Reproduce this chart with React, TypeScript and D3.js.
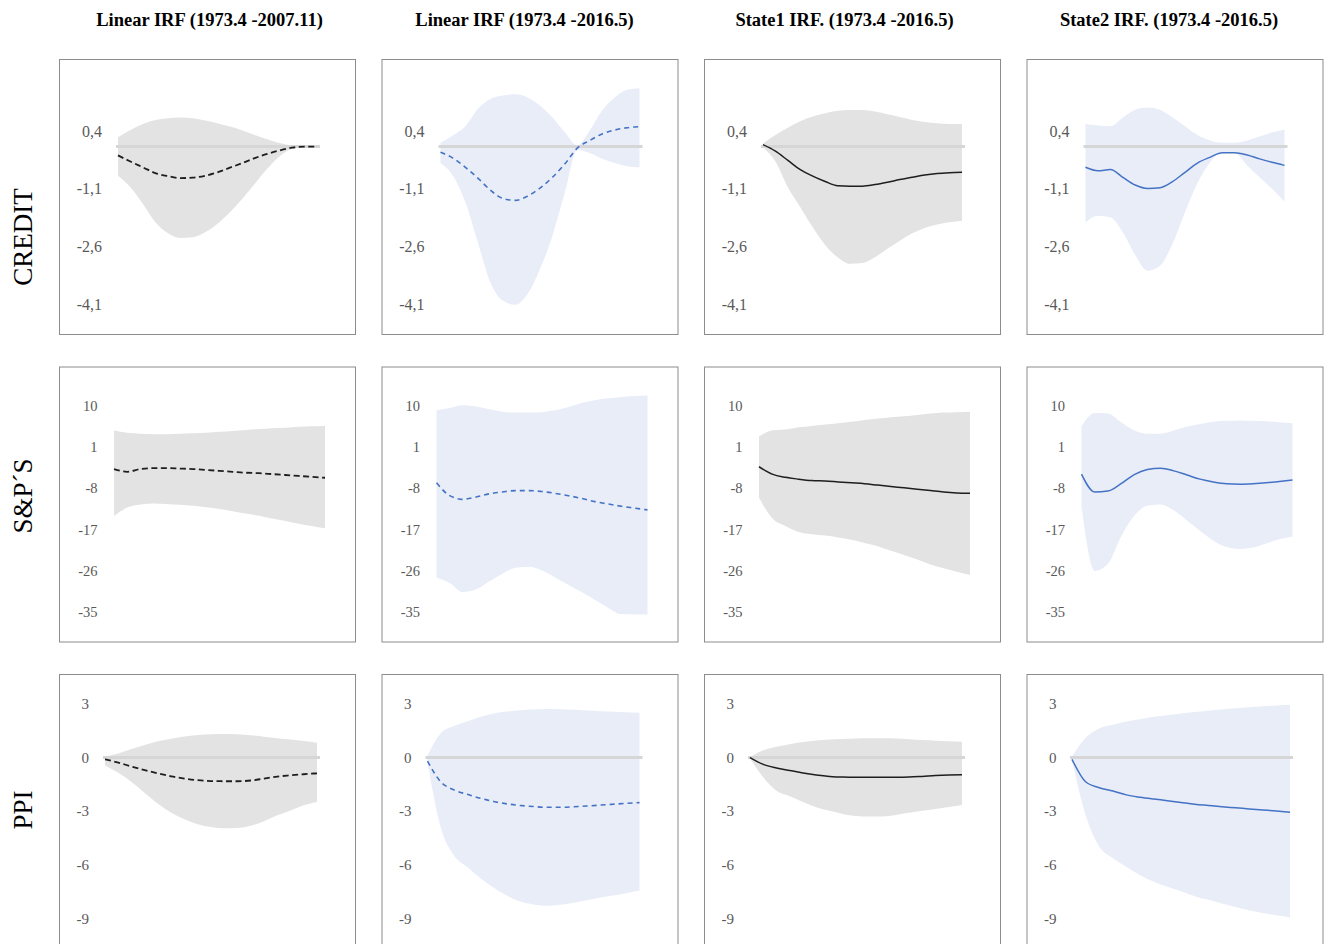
import React from 'react'
import * as d3 from 'd3'

// horizon (months after the shock)
const steps = [0, 1, 2, 3, 4, 5, 6, 7, 8, 9, 10, 11, 12, 13, 14, 15, 16]

const columnTitles = [
  'Linear IRF (1973.4 -2007.11)',
  'Linear IRF (1973.4 -2016.5)',
  'State1 IRF. (1973.4 -2016.5)',
  'State2 IRF. (1973.4 -2016.5)',
]
const variableNames = ['CREDIT', 'S&P´S', 'PPI']

const creditTicks = [0.4, -1.1, -2.6, -4.1]
const spTicks = [10, 1, -8, -17, -26, -35]
const ppiTicks = [3, 0, -3, -6, -9]

// CREDIT
const creditLinA = [-0.23, -0.39, -0.54, -0.69, -0.77, -0.82, -0.81, -0.76, -0.67, -0.55, -0.43, -0.3, -0.19, -0.1, -0.03, 0, 0]
const creditLinAHi = [0.24, 0.43, 0.59, 0.69, 0.74, 0.76, 0.74, 0.68, 0.61, 0.52, 0.42, 0.3, 0.19, 0.09, 0.02, 0, 0]
const creditLinALo = [-0.76, -1.06, -1.49, -1.97, -2.25, -2.38, -2.36, -2.23, -2.01, -1.71, -1.36, -0.97, -0.58, -0.25, -0.06, 0, 0]

const creditLinB = [-0.15, -0.3, -0.54, -0.82, -1.13, -1.35, -1.4, -1.29, -1.08, -0.8, -0.45, -0.04, 0.16, 0.33, 0.43, 0.49, 0.52]
const creditLinBHi = [0.1, 0.29, 0.53, 0.98, 1.24, 1.33, 1.36, 1.28, 1.07, 0.76, 0.37, 0.03, 0.42, 0.94, 1.28, 1.48, 1.52]
const creditLinBLo = [-0.43, -0.76, -1.45, -2.49, -3.53, -4.01, -4.12, -3.84, -3.19, -2.32, -1.19, -0.08, -0.17, -0.32, -0.43, -0.51, -0.54]

const creditS1 = [0.05, -0.12, -0.36, -0.6, -0.77, -0.91, -1.02, -1.03, -1.03, -0.99, -0.93, -0.86, -0.8, -0.74, -0.7, -0.68, -0.67]
const creditS1Hi = [0.08, 0.3, 0.49, 0.66, 0.78, 0.87, 0.93, 0.95, 0.95, 0.91, 0.84, 0.77, 0.69, 0.64, 0.61, 0.59, 0.59]
const creditS1Lo = [-0.02, -0.39, -1.06, -1.58, -2.1, -2.56, -2.88, -3.05, -3.03, -2.88, -2.66, -2.45, -2.26, -2.12, -2.03, -1.97, -1.93]

const creditS2 = [-0.54, -0.63, -0.6, -0.8, -1.0, -1.09, -1.07, -0.91, -0.67, -0.43, -0.28, -0.16, -0.16, -0.22, -0.32, -0.41, -0.49]
const creditS2Hi = [0.59, 0.55, 0.53, 0.76, 0.96, 1.02, 0.96, 0.76, 0.53, 0.3, 0.16, 0.1, 0.1, 0.16, 0.26, 0.37, 0.44]
const creditS2Lo = [-1.97, -1.8, -1.84, -2.23, -2.82, -3.23, -3.1, -2.53, -1.71, -0.95, -0.42, -0.15, -0.17, -0.49, -0.8, -1.1, -1.43]

// S&P
const spLinA = [-3.8, -4.4, -3.8, -3.6, -3.6, -3.7, -3.8, -4.0, -4.2, -4.4, -4.6, -4.7, -4.9, -5.1, -5.3, -5.5, -5.7]
const spLinAHi = [4.6, 4.1, 3.9, 3.8, 3.8, 3.9, 4.0, 4.1, 4.3, 4.5, 4.7, 4.9, 5.1, 5.2, 5.4, 5.5, 5.6]
const spLinALo = [-14.0, -12.2, -11.5, -11.3, -11.4, -11.6, -11.8, -12.1, -12.5, -13.0, -13.5, -14.0, -14.6, -15.1, -15.7, -16.2, -16.7]

const spLinB = [-6.8, -9.6, -10.4, -9.9, -9.2, -8.8, -8.5, -8.5, -8.7, -9.1, -9.6, -10.2, -10.9, -11.4, -11.9, -12.3, -12.7]
const spLinBHi = [9.0, 9.5, 10.1, 9.8, 9.2, 8.7, 8.5, 8.5, 8.6, 9.0, 9.7, 10.6, 11.2, 11.6, 11.9, 12.1, 12.2]
const spLinBLo = [-27.5, -28.6, -30.6, -30.0, -28.3, -26.6, -25.3, -25.1, -25.9, -27.4, -29.0, -30.6, -32.3, -34.0, -35.4, -35.5, -35.5]

const spS1 = [-3.3, -4.9, -5.6, -6.0, -6.3, -6.4, -6.6, -6.8, -7.0, -7.3, -7.6, -7.9, -8.2, -8.5, -8.8, -9.0, -9.1]
const spS1Hi = [3.3, 4.6, 4.8, 5.3, 5.6, 5.9, 6.2, 6.5, 6.9, 7.2, 7.5, 7.7, 8.0, 8.3, 8.5, 8.6, 8.7]
const spS1Lo = [-10, -14.5, -16.2, -17.5, -18.0, -18.3, -18.7, -19.2, -19.9, -20.6, -21.6, -22.5, -23.5, -24.6, -25.4, -26.2, -26.9]

const spS2 = [-4.9, -8.8, -8.6, -7.0, -5.0, -3.9, -3.6, -4.2, -5.1, -6.0, -6.6, -7.0, -7.1, -7.0, -6.8, -6.5, -6.2]
const spS2Hi = [5.5, 8.4, 8.3, 6.4, 4.6, 3.9, 3.9, 4.6, 5.4, 6.0, 6.5, 6.7, 6.8, 6.7, 6.6, 6.4, 6.2]
const spS2Lo = [-12, -26.0, -24.5, -18.5, -14.0, -11.8, -11.5, -12.8, -15.0, -17.3, -19.4, -20.8, -21.2, -20.9, -20.0, -19.1, -18.5]

// PPI
const ppiLinA = [-0.1, -0.28, -0.5, -0.7, -0.88, -1.05, -1.17, -1.26, -1.31, -1.32, -1.32, -1.28, -1.17, -1.06, -0.99, -0.93, -0.88]
const ppiLinAHi = [0.05, 0.22, 0.47, 0.7, 0.9, 1.05, 1.17, 1.25, 1.29, 1.31, 1.29, 1.24, 1.16, 1.08, 1.0, 0.92, 0.82]
const ppiLinALo = [-0.45, -0.85, -1.36, -1.97, -2.58, -3.07, -3.43, -3.71, -3.87, -3.94, -3.92, -3.8, -3.55, -3.22, -2.95, -2.66, -2.46]

const ppiLinB = [-0.2, -1.35, -1.8, -2.05, -2.27, -2.45, -2.58, -2.67, -2.73, -2.77, -2.77, -2.74, -2.7, -2.65, -2.6, -2.55, -2.51]
const ppiLinBHi = [0.1, 1.35, 1.75, 2.0, 2.27, 2.45, 2.56, 2.63, 2.67, 2.7, 2.69, 2.66, 2.62, 2.58, 2.55, 2.52, 2.49]
const ppiLinBLo = [-0.25, -3.9, -5.45, -6.1, -6.72, -7.25, -7.7, -8.02, -8.18, -8.25, -8.2, -8.08, -7.95, -7.8, -7.68, -7.55, -7.41]

const ppiS1 = [0, -0.38, -0.58, -0.72, -0.86, -0.97, -1.05, -1.09, -1.1, -1.1, -1.1, -1.1, -1.09, -1.05, -1.0, -0.97, -0.96]
const ppiS1Hi = [0.02, 0.4, 0.6, 0.74, 0.86, 0.95, 1.0, 1.03, 1.06, 1.07, 1.07, 1.06, 1.02, 0.97, 0.94, 0.91, 0.88]
const ppiS1Lo = [-0.05, -1.1, -1.85, -2.15, -2.47, -2.77, -2.97, -3.14, -3.26, -3.29, -3.28, -3.2, -3.08, -2.96, -2.86, -2.75, -2.64]

const ppiS2 = [-0.1, -1.35, -1.68, -1.86, -2.08, -2.21, -2.31, -2.4, -2.5, -2.6, -2.67, -2.74, -2.8, -2.86, -2.92, -2.98, -3.05]
const ppiS2Hi = [0.05, 1.1, 1.62, 1.82, 2.0, 2.13, 2.27, 2.35, 2.45, 2.53, 2.61, 2.68, 2.74, 2.8, 2.85, 2.9, 2.94]
const ppiS2Lo = [-0.15, -3.2, -4.95, -5.6, -6.1, -6.55, -6.92, -7.2, -7.45, -7.72, -7.92, -8.12, -8.32, -8.5, -8.65, -8.78, -8.9]

const rows = [
  {
    ticks: creditTicks,
    domain: [-4.88, 2.28],
    panels: [
      [creditLinA, creditLinALo, creditLinAHi],
      [creditLinB, creditLinBLo, creditLinBHi],
      [creditS1, creditS1Lo, creditS1Hi],
      [creditS2, creditS2Lo, creditS2Hi],
    ],
  },
  {
    ticks: spTicks,
    domain: [-41.37, 18.54],
    panels: [
      [spLinA, spLinALo, spLinAHi],
      [spLinB, spLinBLo, spLinBHi],
      [spS1, spS1Lo, spS1Hi],
      [spS2, spS2Lo, spS2Hi],
    ],
  },
  {
    ticks: ppiTicks,
    domain: [-10.66, 4.65],
    panels: [
      [ppiLinA, ppiLinALo, ppiLinAHi],
      [ppiLinB, ppiLinBLo, ppiLinBHi],
      [ppiS1, ppiS1Lo, ppiS1Hi],
      [ppiS2, ppiS2Lo, ppiS2Hi],
    ],
  },
]

// layout
const W = 1331
const H = 944
const panelLeft = [59, 381.5, 704, 1026.5]
const panelTop = [59, 366.5, 674]
const panelW = 296
const panelH = 275
const plotOffset = [59, 55, 46]
const plotWidth = [199, 211, 212]
const labelRight = [43, 38.5, 30]
const labelSize = [16, 14.5, 15]
const titleX = [209.5, 524.5, 844.5, 1169]
const rowLabelY = [237, 496, 810]
const showZero = [true, false, true]

const GRAY_BAND = '#e3e3e3'
const BLUE_BAND = '#e8edf8'
const BLACK = '#1e1e1e'
const BLUE = '#4472c4'
const serif = '"Liberation Serif", "Times New Roman", serif'

const colStyle = [
  { band: GRAY_BAND, line: BLACK, dash: '6,3.5', width: 1.8 },
  { band: BLUE_BAND, line: BLUE, dash: '5,4', width: 1.6 },
  { band: GRAY_BAND, line: BLACK, dash: null, width: 1.5 },
  { band: BLUE_BAND, line: BLUE, dash: null, width: 1.5 },
]

const fmt = (v: number) => String(v).replace('.', ',')

function Panel({ r, c }: { r: number; c: number }) {
  const row = rows[r]
  const [irf, lo, hi] = row.panels[c]
  const left = panelLeft[c]
  const top = panelTop[r]
  const x0 = left + (r === 2 && c === 3 ? 45.5 : plotOffset[r])
  const w = r === 2 && c === 3 ? 218 : plotWidth[r]

  const x = d3.scaleLinear().domain([steps[0], steps[steps.length - 1]]).range([x0, x0 + w])
  const y = d3.scaleLinear().domain(row.domain).range([top + panelH, top])

  const area = d3
    .area<number>()
    .x((d, i) => x(steps[i]))
    .y0((d, i) => y(lo[i]))
    .y1((d, i) => y(hi[i]))
    .curve(d3.curveMonotoneX)
  const line = d3
    .line<number>()
    .x((d, i) => x(steps[i]))
    .y((d) => y(d))
    .curve(d3.curveMonotoneX)

  const st = colStyle[c]
  return (
    <g>
      <rect x={left + 0.5} y={top + 0.5} width={panelW} height={panelH} fill="#fff" stroke="#8c8c8c" strokeWidth={1} />
      {row.ticks.map((t) => (
        <text
          key={t}
          x={left + labelRight[r]}
          y={y(t)}
          textAnchor="end"
          dominantBaseline="central"
          fontSize={labelSize[r]}
          fontFamily={serif}
          fill="#595959"
        >
          {fmt(t)}
        </text>
      ))}
      <path d={area(irf) || ''} fill={st.band} />
      {showZero[r] && (
        <line x1={x0 - 2} x2={x0 + w + 3} y1={y(0)} y2={y(0)} stroke="#d6d6d6" strokeWidth={3} />
      )}
      <path
        d={line(irf) || ''}
        fill="none"
        stroke={st.line}
        strokeWidth={st.width}
        strokeDasharray={st.dash || undefined}
      />
    </g>
  )
}

export default function App() {
  return (
    <svg width={W} height={H} style={{ position: 'absolute', left: 0, top: 0, background: '#fff' }}>
      {columnTitles.map((t, c) => (
        <text key={t} x={titleX[c]} y={26} textAnchor="middle" fontWeight="bold" fontSize={18.5} fontFamily={serif} fill="#000">
          {t}
        </text>
      ))}
      {variableNames.map((n, r) => (
        <text
          key={n}
          transform={`translate(31.5,${rowLabelY[r]}) rotate(-90)`}
          textAnchor="middle"
          fontSize={27}
          fontFamily={serif}
          fill="#000"
        >
          {n}
        </text>
      ))}
      {rows.map((row, r) => row.panels.map((p, c) => <Panel key={`${r}-${c}`} r={r} c={c} />))}
    </svg>
  )
}
